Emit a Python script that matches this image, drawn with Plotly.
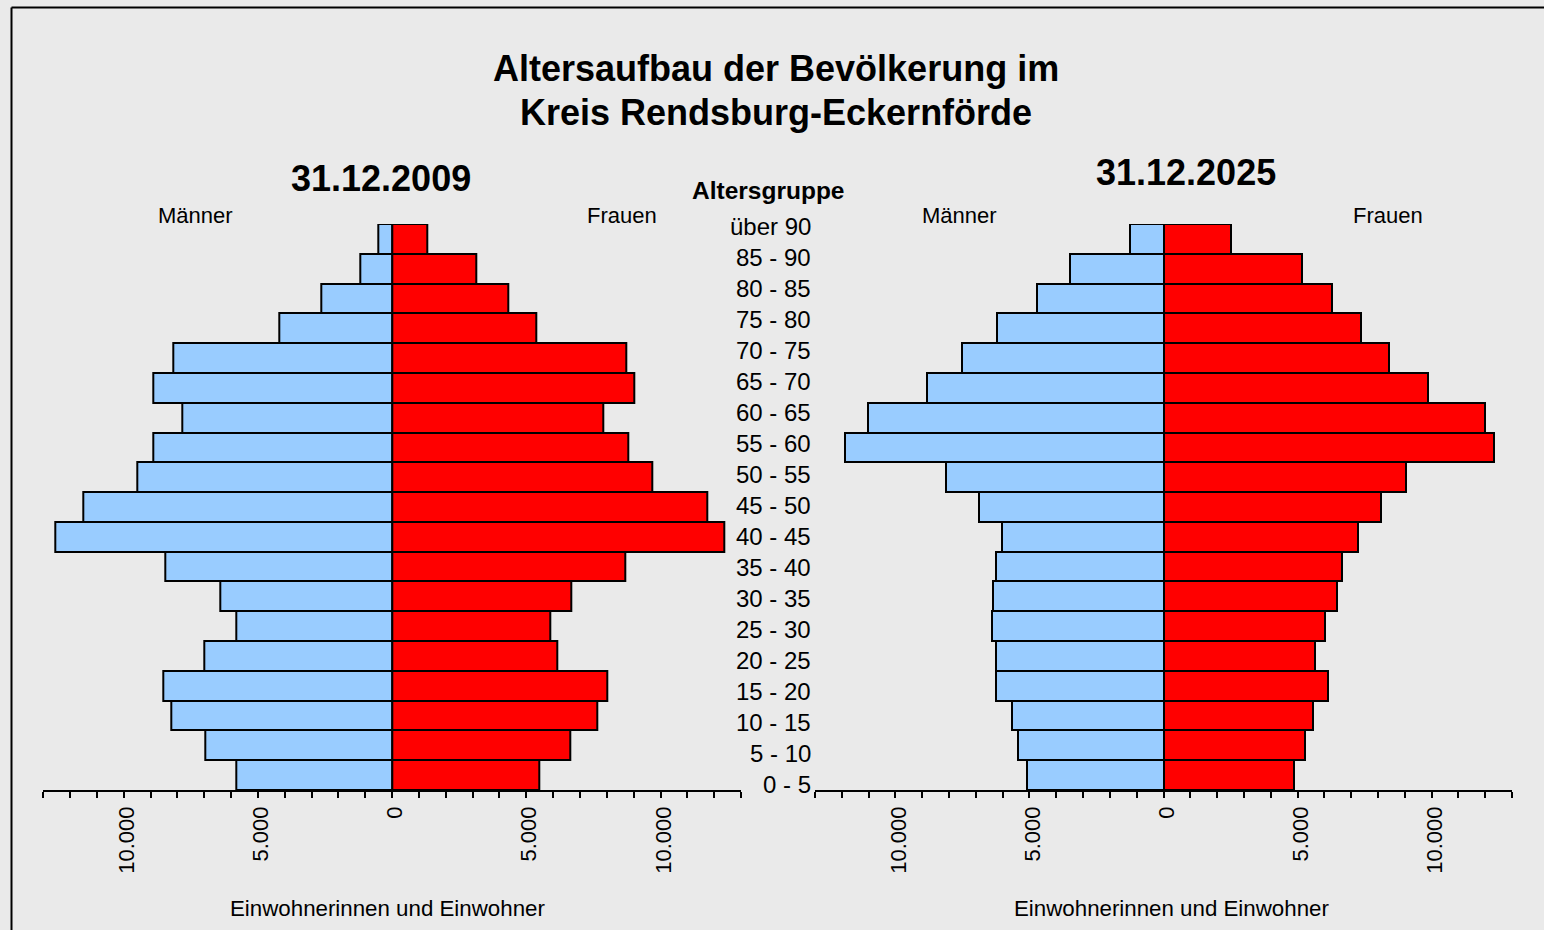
import plotly.graph_objects as go

W, H = 1544, 930

age_groups = ["0 - 5", "5 - 10", "10 - 15", "15 - 20", "20 - 25", "25 - 30", "30 - 35",
              "35 - 40", "40 - 45", "45 - 50", "50 - 55", "55 - 60", "60 - 65", "65 - 70",
              "70 - 75", "75 - 80", "80 - 85", "85 - 90", "über 90"]

men_2009 = [5810, 6980, 8230, 8530, 6990, 5820, 6410, 8470, 12570, 11520, 9500, 8900,
            7810, 8890, 8170, 4200, 2630, 1190, 530]
women_2009 = [5470, 6650, 7650, 8030, 6160, 5890, 6670, 8670, 12370, 11730, 9700, 8790,
              7880, 9030, 8720, 5370, 4320, 3130, 1300]
men_2025 = [5100, 5420, 5670, 6250, 6240, 6400, 6350, 6250, 6020, 6890, 8120, 11890,
            11030, 8830, 7520, 6200, 4710, 3480, 1260]
women_2025 = [4880, 5260, 5570, 6120, 5660, 6030, 6460, 6650, 7270, 8130, 9030, 12340,
              11990, 9870, 8430, 7350, 6270, 5160, 2520]

tick_vals = list(range(-13000, 13001, 1000))
tick_label_map = {-10000: "10.000", -5000: "5.000", 0: "0", 5000: "5.000", 10000: "10.000"}
tick_text = [tick_label_map.get(v, "") for v in tick_vals]

title_lines = ["Altersaufbau der Bevölkerung im", "Kreis Rendsburg-Eckernförde"]
panel_titles = ["31.12.2009", "31.12.2025"]
men_label, women_label = "Männer", "Frauen"
axis_title = "Einwohnerinnen und Einwohner"
age_header = "Altersgruppe"

MEN_COLOR = "#99CCFF"
WOMEN_COLOR = "#FF0000"
BG = "#EAEAEA"
FONT = "Liberation Sans, Arial, sans-serif"


def px(x):
    return x / W


def py(y):
    return 1 - y / H


fig = go.Figure()

for xa, ya, men, women in [("x", "y", men_2009, women_2009), ("x2", "y2", men_2025, women_2025)]:
    fig.add_trace(go.Bar(y=age_groups, x=[-v for v in men], orientation="h",
                         marker=dict(color=MEN_COLOR, line=dict(color="black", width=2)),
                         xaxis=xa, yaxis=ya, name=men_label, showlegend=False,
                         customdata=men, hovertemplate="%{y}: %{customdata}<extra>Männer</extra>"))
    fig.add_trace(go.Bar(y=age_groups, x=women, orientation="h",
                         marker=dict(color=WOMEN_COLOR, line=dict(color="black", width=2)),
                         xaxis=xa, yaxis=ya, name=women_label, showlegend=False,
                         hovertemplate="%{y}: %{x}<extra>Frauen</extra>"))

xaxis_common = dict(range=[-13000, 13000], tickmode="array", tickvals=tick_vals, ticktext=tick_text,
                    tickangle=-90, ticks="outside", ticklen=6, tickwidth=1.5, tickcolor="black",
                    ticklabelshift=3,
                    showline=True, linecolor="black", linewidth=1.5, showgrid=False, zeroline=False,
                    tickfont=dict(family=FONT, size=22, color="black"), fixedrange=True)
yaxis_common = dict(type="category", categoryorder="array", categoryarray=age_groups,
                    range=[-0.5, len(age_groups) - 0.5], showticklabels=False, showline=False,
                    ticks="", showgrid=False, zeroline=False, domain=[py(790), py(224)], fixedrange=True)

fig.update_layout(
    width=W, height=H,
    margin=dict(l=0, r=0, t=0, b=0),
    paper_bgcolor=BG, plot_bgcolor=BG,
    barmode="relative", bargap=0,
    font=dict(family=FONT, color="black"),
    xaxis=dict(domain=[px(43.3), px(741)], anchor="y", **xaxis_common),
    xaxis2=dict(domain=[px(815), px(1512)], anchor="y2", **xaxis_common),
    yaxis=dict(anchor="x", **yaxis_common),
    yaxis2=dict(anchor="x2", **yaxis_common),
)

annotations = []
annotations.append(dict(text="<b>%s</b>" % title_lines[0], x=px(776), y=py(68), font=dict(size=36)))
annotations.append(dict(text="<b>%s</b>" % title_lines[1], x=px(776), y=py(112), font=dict(size=36)))
annotations.append(dict(text="<b>%s</b>" % panel_titles[0], x=px(381), y=py(178), font=dict(size=36)))
annotations.append(dict(text="<b>%s</b>" % panel_titles[1], x=px(1186), y=py(172), font=dict(size=36)))
annotations.append(dict(text="<b>%s</b>" % age_header, x=px(768), y=py(190), font=dict(size=24.5)))
for cx, label in [(195, men_label), (622, women_label), (959, men_label), (1388, women_label)]:
    annotations.append(dict(text=label, x=px(cx), y=py(215), font=dict(size=22)))
for cx in [387, 1171]:
    annotations.append(dict(text=axis_title, x=px(cx), y=py(908), font=dict(size=22.3)))
for i, label in enumerate(age_groups):
    annotations.append(dict(text=label, x=px(813), y=py(784.5 - 31 * i), xanchor="right",
                            font=dict(size=24)))

for a in annotations:
    a.setdefault("xanchor", "center")
    a.update(xref="paper", yref="paper", yanchor="middle", showarrow=False)
    a["font"].update(family=FONT, color="black")

fig.update_layout(annotations=annotations)

fig.add_shape(type="line", xref="paper", yref="paper", x0=px(11.5), y0=py(7.5), x1=1.0, y1=py(7.5),
              line=dict(color="black", width=2), layer="above")
fig.add_shape(type="line", xref="paper", yref="paper", x0=px(11.5), y0=0.0, x1=px(11.5), y1=py(7.5),
              line=dict(color="black", width=2), layer="above")

fig.write_html("out.html", config={"displayModeBar": False},
               post_script="document.body.style.margin='0';document.body.style.overflow='hidden';")
